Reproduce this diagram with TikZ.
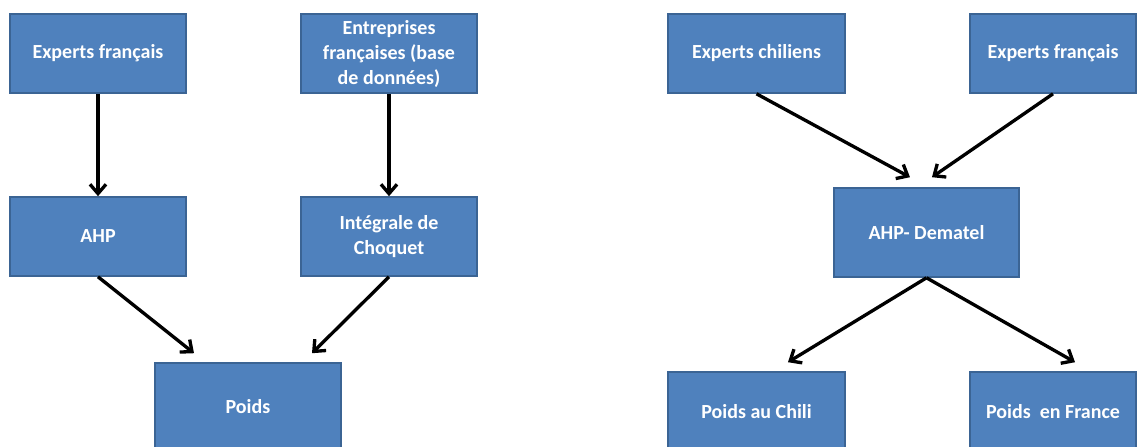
\documentclass[tikz,border=0pt]{standalone}
\usepackage{fontspec}
\setmainfont{Carlito}
\usetikzlibrary{arrows.meta}
\definecolor{boxfill}{HTML}{4F81BD}
\definecolor{boxline}{HTML}{3B6494}
\tikzset{
  box/.style={draw=boxline, line width=1.2pt, fill=boxfill, text=white,
    font=\fontsize{15}{18.75}\selectfont\bfseries, align=center,
    inner sep=0pt, anchor=center},
  conn/.style={line width=2.5pt, black,
    -{Straight Barb[length=7pt,width=12pt,line width=2.5pt]}}
}
\begin{document}
\begin{tikzpicture}[x=0.75pt,y=-0.75pt]
\useasboundingbox (0,0) rectangle (1137,446);
% left diagram
\node[box, minimum width=132pt, minimum height=59.25pt] (ef) at (98,53.5) {Experts français};
\node[box, minimum width=132pt, minimum height=59.25pt] (ent) at (389,53.5) {Entreprises\\françaises (base\\de données)};
\node[box, minimum width=132pt, minimum height=59.25pt] (ahp) at (98,236.5) {AHP};
\node[box, minimum width=132pt, minimum height=59.25pt] (int) at (389,236.5) {Intégrale de\\Choquet};
\node[box, minimum width=139.5pt, minimum height=66pt] (poids) at (248,407) {Poids};
% right diagram
\node[box, minimum width=132.75pt, minimum height=59.25pt] (ch) at (756.5,53.5) {Experts chiliens};
\node[box, minimum width=124.5pt, minimum height=59.25pt] (fr) at (1053,53.5) {Experts français};
\node[box, minimum width=138.75pt, minimum height=66.75pt] (dem) at (926.5,232.5) {AHP- Dematel};
\node[box, minimum width=132.75pt, minimum height=60pt] (pc) at (756.5,412) {Poids au Chili};
\node[box, minimum width=124.5pt, minimum height=60pt] (pf) at (1053,412) {Poids\ \ en France};
% connectors
\draw[conn] (ef.south) -- (ahp.north);
\draw[conn] (ent.south) -- (int.north);
\draw[conn] (ahp.south) -- ([xshift=-40.5pt,yshift=6.75pt]poids.north);
\draw[conn] (int.south) -- ([xshift=48pt,yshift=6.75pt]poids.north);
\draw[conn] (ch.south) -- ([xshift=-12.4pt,yshift=7.5pt]dem.north);
\draw[conn] (fr.south) -- ([xshift=4.1pt,yshift=7.5pt]dem.north);
\draw[conn] (dem.south) -- ([xshift=23.6pt,yshift=6.75pt]pc.north);
\draw[conn] (dem.south) -- ([xshift=16.5pt,yshift=6.75pt]pf.north);
\end{tikzpicture}
\end{document}
